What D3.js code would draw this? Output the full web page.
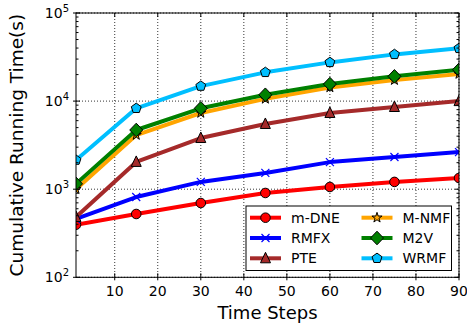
<!DOCTYPE html>
<html>
<head>
<meta charset="utf-8">
<script src="https://cdn.jsdelivr.net/npm/d3@7"></script>
<style>
  html, body { margin: 0; padding: 0; background: #fff; }
  svg { display: block; font-family: "DejaVu Sans", sans-serif; }
</style>
</head>
<body>
<svg id="chart" width="467" height="325"></svg>
<script>
// Time steps at which cumulative running time was measured
const steps = [1, 15, 30, 45, 60, 75, 90];
const xTicks = [10, 20, 30, 40, 50, 60, 70, 80, 90];
const yExponents = [2, 3, 4, 5];

// Cumulative running time (seconds) per method
const mDNE = [395, 523, 697, 906, 1060, 1210, 1340];
const RMFX = [459, 815, 1210, 1530, 2030, 2320, 2640];
const PTE  = [483, 2040, 3810, 5500, 7330, 8570, 10000];
const MNMF = [1000, 4120, 7330, 10600, 14300, 17300, 20300];
const M2V  = [1150, 4700, 8280, 11800, 15600, 19100, 22700];
const WRMF = [2140, 8280, 14800, 21200, 27500, 33900, 39700];

const series = [
  { name: "m-DNE", values: mDNE, color: "#ff0000", marker: "circle" },
  { name: "RMFX",  values: RMFX, color: "#0000ff", marker: "x" },
  { name: "PTE",   values: PTE,  color: "#a52a2a", marker: "triangle" },
  { name: "M-NMF", values: MNMF, color: "#ffa500", marker: "star" },
  { name: "M2V",   values: M2V,  color: "#008000", marker: "diamond" },
  { name: "WRMF",  values: WRMF, color: "#00bfff", marker: "pentagon" }
];

const svg = d3.select("#chart");
const m = { left: 76, top: 13, right: 459, bottom: 277.3 };
const W = m.right - m.left, H = m.bottom - m.top;

const x = d3.scaleLinear().domain([1, 90]).range([m.left, m.right]);
const y = d3.scaleLog().domain([100, 100000]).range([m.bottom, m.top]);

// Dotted grid at major ticks
const grid = svg.append("g").attr("stroke", "#000").attr("stroke-width", 0.8)
  .attr("stroke-dasharray", "1,2");
xTicks.forEach(t => grid.append("line")
  .attr("x1", x(t)).attr("x2", x(t)).attr("y1", m.top).attr("y2", m.bottom));
yExponents.forEach(e => grid.append("line")
  .attr("x1", m.left).attr("x2", m.right).attr("y1", y(Math.pow(10, e))).attr("y2", y(Math.pow(10, e))));

// Clip region for the data
svg.append("defs").append("clipPath").attr("id", "plotclip")
  .append("rect").attr("x", m.left).attr("y", m.top).attr("width", W).attr("height", H);

function pentagonPath(r) {
  const pts = d3.range(5).map(i => {
    const a = -Math.PI / 2 + i * 2 * Math.PI / 5;
    return [r * Math.cos(a), r * Math.sin(a)];
  });
  return "M" + pts.map(p => p.join(",")).join("L") + "Z";
}

function drawMarker(g, type, color, cx, cy) {
  if (type === "x") {
    const s = 4;
    g.append("path")
      .attr("d", `M${cx - s},${cy - s}L${cx + s},${cy + s}M${cx - s},${cy + s}L${cx + s},${cy - s}`)
      .attr("stroke", color).attr("stroke-width", 1.2).attr("fill", "none");
    return;
  }
  let d;
  if (type === "pentagon") d = pentagonPath(5.2);
  else if (type === "diamond") d = "M0,-6.8L6.5,0L0,6.8L-6.5,0Z";
  else if (type === "triangle") d = "M0,-6L5,4.5L-5,4.5Z";
  else if (type === "star") d = d3.symbol().type(d3.symbolStar).size(32)();
  else d = d3.symbol().type(d3.symbolCircle).size(72)();
  g.append("path").attr("d", d)
    .attr("transform", `translate(${cx},${cy})`)
    .attr("fill", color).attr("stroke", "#000").attr("stroke-width", 1);
}

const line = d3.line().x((d, i) => x(steps[i])).y(d => y(d));
const plot = svg.append("g").attr("clip-path", "url(#plotclip)");

series.forEach(s => {
  plot.append("path").datum(s.values)
    .attr("d", line).attr("fill", "none")
    .attr("stroke", s.color).attr("stroke-width", 4)
    .attr("stroke-linejoin", "round");
  s.values.forEach((v, i) => drawMarker(plot, s.marker, s.color, x(steps[i]), y(v)));
});

// Frame
svg.append("rect").attr("x", m.left).attr("y", m.top).attr("width", W).attr("height", H)
  .attr("fill", "none").attr("stroke", "#000").attr("stroke-width", 1);

// Ticks
const ticks = svg.append("g").attr("stroke", "#000").attr("stroke-width", 1);
xTicks.forEach(t => {
  ticks.append("line").attr("x1", x(t)).attr("x2", x(t)).attr("y1", m.bottom - 4).attr("y2", m.bottom + 3);
  ticks.append("line").attr("x1", x(t)).attr("x2", x(t)).attr("y1", m.top).attr("y2", m.top + 4);
});
yExponents.forEach(e => {
  const yy = y(Math.pow(10, e));
  ticks.append("line").attr("x1", m.left - 3).attr("x2", m.left + 4).attr("y1", yy).attr("y2", yy);
  ticks.append("line").attr("x1", m.right - 4).attr("x2", m.right).attr("y1", yy).attr("y2", yy);
  if (e < 5) {
    for (let k = 2; k <= 9; k++) {
      const ym = y(k * Math.pow(10, e));
      ticks.append("line").attr("x1", m.left).attr("x2", m.left + 2.5).attr("y1", ym).attr("y2", ym);
      ticks.append("line").attr("x1", m.right - 2.5).attr("x2", m.right).attr("y1", ym).attr("y2", ym);
    }
  }
});

// Tick labels
xTicks.forEach(t => svg.append("text")
  .attr("x", x(t)).attr("y", m.bottom + 19)
  .attr("text-anchor", "middle").attr("font-size", 14).attr("fill", "#000").text(t));

yExponents.forEach(e => {
  const tx = svg.append("text")
    .attr("x", m.left - 7).attr("y", y(Math.pow(10, e)) + 5)
    .attr("text-anchor", "end").attr("font-size", 14).attr("fill", "#000");
  tx.append("tspan").text("10");
  tx.append("tspan").attr("dy", -6).attr("font-size", 10).text(e);
});

// Axis titles
svg.append("text").attr("x", (m.left + m.right) / 2).attr("y", 319)
  .attr("text-anchor", "middle").attr("font-size", 18).attr("fill", "#000").text("Time Steps");
svg.append("text")
  .attr("transform", `translate(23,${(m.top + m.bottom) / 2}) rotate(-90)`)
  .attr("text-anchor", "middle").attr("font-size", 18.5).attr("fill", "#000")
  .text("Cumulative Running Time(s)");

// Legend
const lg = svg.append("g");
lg.append("rect").attr("x", 246).attr("y", 206).attr("width", 205.5).attr("height", 64.5)
  .attr("fill", "#fff").attr("stroke", "#000").attr("stroke-width", 1);
series.forEach((s, i) => {
  const col = Math.floor(i / 3), row = i % 3;
  const x0 = col === 0 ? 250 : 361.5;
  const yy = 217.7 + row * 20.3;
  lg.append("line").attr("x1", x0).attr("x2", x0 + 31).attr("y1", yy).attr("y2", yy)
    .attr("stroke", s.color).attr("stroke-width", 4);
  drawMarker(lg, s.marker, s.color, x0 + 15.5, yy);
  lg.append("text").attr("x", x0 + 41).attr("y", yy + 5)
    .attr("font-size", 14).attr("fill", "#000").text(s.name);
});
</script>
</body>
</html>
